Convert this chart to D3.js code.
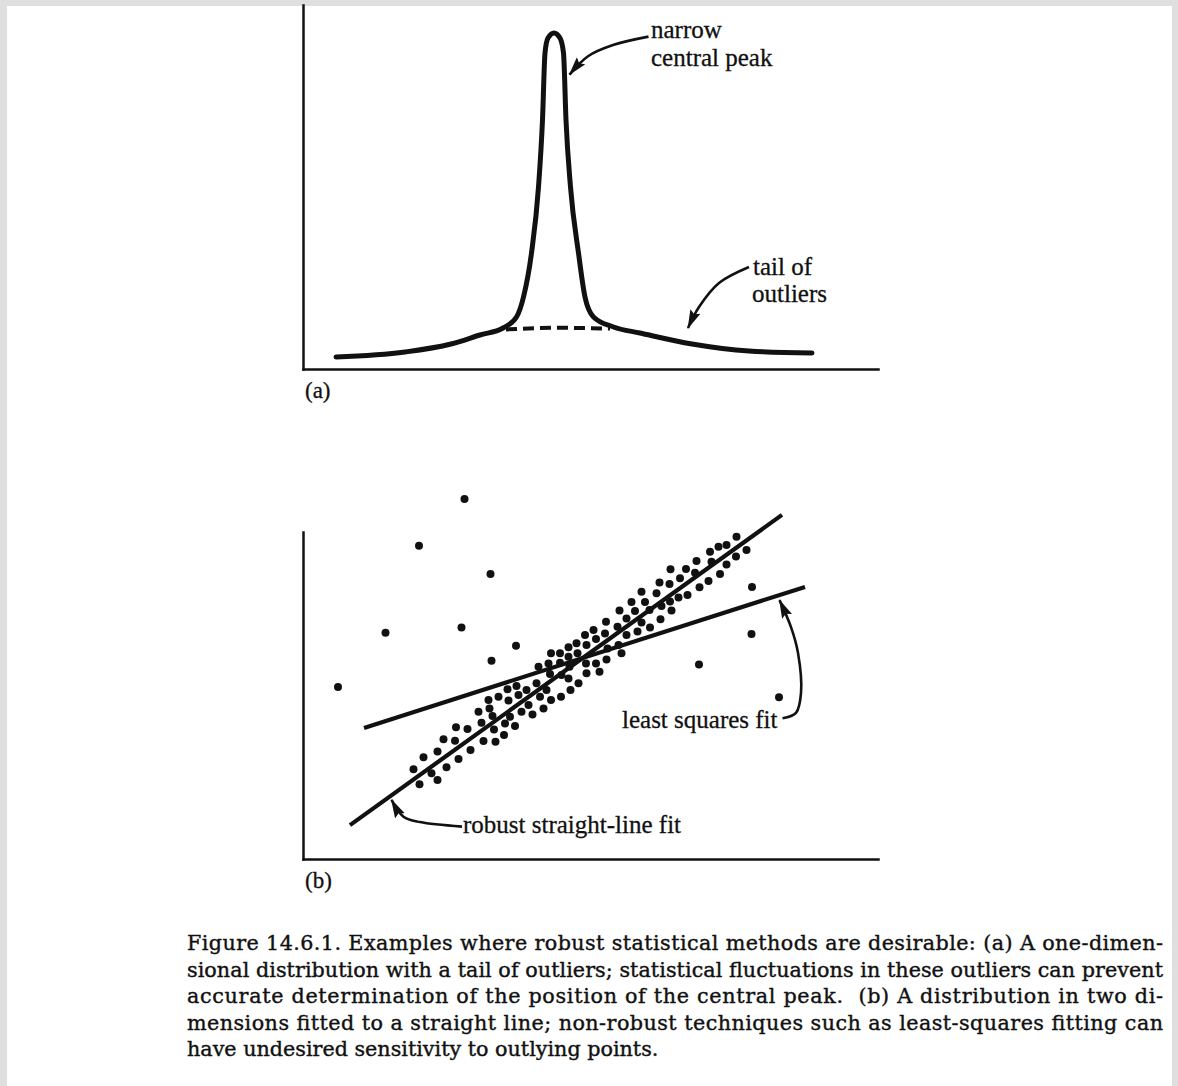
<!DOCTYPE html>
<html lang="en">
<head>
<meta charset="UTF-8">
<title>Figure 14.6.1</title>
<script src="https://d3js.org/d3.v7.min.js"></script>
<style>
  * { margin: 0; padding: 0; box-sizing: border-box; }
  body { background: #dfdfdf; width: 1178px; height: 1086px; overflow: hidden; }
  svg { display: block; }
  .note { font-family: "Liberation Serif", "Times New Roman", serif; font-size: 25px; fill: #111; stroke: #111; stroke-width: 0.3px; }
  .caption { font-family: "DejaVu Serif", serif; fill: #111; stroke: #111; stroke-width: 0.4px; }
</style>
</head>
<body>
<div id="chart"></div>
<script>
// (a) one-dimensional distribution: narrow peak on a broad tail
const peakX = [6.6, 20.4, 29.6, 35.4, 40.0, 42.7, 44.1, 45.7, 47.1, 47.9, 48.4, 49.0, 50.2,
               51.4, 52.1, 52.6, 53.5, 55.1, 56.4, 58.1, 62.1, 67.4, 77.8, 89.2, 101.8];
const peakY = [3.0, 4.25, 6.25, 8.5, 10.25, 13.0, 18.0, 29.0, 45.5, 62.25, 79.0, 82.75, 84.0,
               82.75, 79.0, 62.25, 45.5, 29.0, 18.0, 13.0, 10.5, 9.0, 6.25, 4.5, 4.0];
// broad component under the peak (dashed)
const baseX = [40.6, 51.0, 61.4];
const baseY = [9.9, 10.3, 10.1];

// (b) points in two dimensions
const outlierDots = [[32.3, 120.0], [23.2, 104.4], [37.5, 95.0], [16.5, 75.4], [31.7, 77.2],
  [42.6, 71.1], [37.7, 66.1], [7.0, 57.3], [89.8, 90.7], [89.7, 75.0], [79.2, 64.8], [95.2, 53.9]];
const bandDots = [
  [22.1, 29.9], [23.3, 24.9], [24.1, 33.9], [25.7, 28.6], [26.9, 26.3], [26.9, 35.8], [28.1, 39.9],
  [28.7, 30.6], [30.4, 39.4], [30.6, 43.9], [31.1, 33.3], [32.9, 43.3], [33.5, 36.3], [35.1, 49.1],
  [35.7, 45.4], [36.1, 39.3], [37.1, 53.0], [37.3, 50.2], [37.9, 47.7], [38.2, 43.2], [38.5, 39.1],
  [39.1, 54.1], [40.2, 41.3], [40.4, 45.2], [41.1, 52.8], [41.4, 47.4], [40.9, 56.6], [42.4, 44.3],
  [42.7, 57.7], [43.1, 54.7], [43.7, 49.1], [44.7, 56.3], [45.1, 51.3], [45.9, 48.2], [46.7, 58.6],
  [47.4, 54.1], [48.1, 50.2], [48.7, 56.3],
  [47.1, 64.1], [49.1, 65.2], [49.4, 61.7], [49.6, 68.6], [49.6, 53.0], [51.4, 68.6], [51.4, 65.4],
  [51.7, 61.3], [51.6, 54.1], [53.1, 70.6], [53.1, 67.4], [53.3, 64.1], [53.1, 60.2], [53.5, 56.3],
  [54.7, 71.9], [54.9, 68.6], [55.1, 58.6], [56.4, 74.7], [56.7, 71.3], [56.6, 65.2], [56.7, 61.9],
  [58.1, 76.3], [58.6, 73.3], [58.6, 65.2], [59.3, 62.4], [60.4, 75.2], [60.6, 79.1], [60.9, 70.2],
  [60.7, 66.5], [62.9, 77.4], [63.1, 71.3], [64.7, 74.7], [63.7, 68.6],
  [67.7, 89.1], [65.7, 85.7], [68.4, 85.7], [63.3, 82.8], [66.4, 82.7], [69.3, 83.0], [64.7, 80.2],
  [67.7, 78.8], [66.9, 75.8], [69.4, 77.2],
  [86.7, 107.4], [84.7, 104.7], [83.1, 104.1], [81.4, 102.4], [88.7, 103.0], [86.6, 100.8],
  [78.7, 99.3], [81.7, 99.1], [84.7, 98.2], [73.5, 96.6], [76.6, 96.7], [78.4, 95.4], [75.4, 93.6],
  [83.4, 95.0], [81.1, 92.7], [79.3, 90.6], [71.3, 92.2], [73.3, 91.7], [70.7, 88.6], [76.9, 88.0],
  [75.1, 87.2], [73.4, 85.8], [71.7, 84.3], [73.7, 82.8], [71.5, 79.9]];
const robustX = [9.4, 95.8], robustY = [11.3, 114.7];
const lsqX = [12.2, 100.4], lsqY = [43.7, 90.7];

// annotation arrows (data units of each panel)
const narrowArrow = [[69.1, 83.1], [62.0, 81.0], [57.0, 78.2], [53.3, 73.6]];
const tailArrow = [[89.2, 25.5], [83.2, 21.5], [79.2, 15.5], [77.0, 10.25]];
const lsqArrow = [[95.9, 46.9], [98.6, 48.7], [99.6, 55.3], [99.0, 68.7], [97.6, 77.3], [95.3, 86.3]];
const robustArrow = [[31.8, 10.8], [23.4, 12.3], [20.1, 14.1], [17.7, 19.7]];

const captionLines = [
  "Figure 14.6.1. Examples where robust statistical methods are desirable: (a) A one-dimen-",
  "sional distribution with a tail of outliers; statistical fluctuations in these outliers can prevent",
  "accurate determination of the position of the central peak.  (b) A distribution in two di-",
  "mensions fitted to a straight line; non-robust techniques such as least-squares fitting can",
  "have undesired sensitivity to outlying points."
];

const W = 1178, H = 1086;
const svg = d3.select("#chart").append("svg").attr("width", W).attr("height", H);
svg.append("rect").attr("x", 7).attr("y", 6).attr("width", 1165).attr("height", H - 6).attr("fill", "#fff");

const defs = svg.append("defs");
defs.append("marker")
    .attr("id", "head")
    .attr("viewBox", "0 -6 19 12")
    .attr("refX", 18).attr("refY", 0)
    .attr("markerWidth", 19).attr("markerHeight", 12)
    .attr("markerUnits", "userSpaceOnUse")
    .attr("orient", "auto")
  .append("path")
    .attr("d", "M0,-5.5L19,0L0,5.5L3,0Z")
    .attr("fill", "#111");

const ink = "#111";

function drawAxes(x, y) {
    svg.append("g")
        .attr("transform", `translate(0,${y(0)})`)
        .call(d3.axisBottom(x).tickValues([]).tickSizeOuter(0))
        .select(".domain").attr("stroke", ink).attr("stroke-width", 2.5).attr("stroke-linecap", "square");
    svg.append("g")
        .attr("transform", `translate(${x(0)},0)`)
        .call(d3.axisLeft(y).tickValues([]).tickSizeOuter(0))
        .select(".domain").attr("stroke", ink).attr("stroke-width", 2.5).attr("stroke-linecap", "square");
}

function arrow(pts, x, y) {
    svg.append("path")
        .attr("d", d3.line().x(d => x(d[0])).y(d => y(d[1])).curve(d3.curveCatmullRom)(pts))
        .attr("fill", "none")
        .attr("stroke", ink)
        .attr("stroke-width", 2.6)
        .attr("marker-end", "url(#head)");
}

// ---------- panel (a) ----------
const xA = d3.scaleLinear().domain([0, 115]).range([303, 878]);
const yA = d3.scaleLinear().domain([0, 91]).range([369, 5]);
drawAxes(xA, yA);

const peak = peakX.map((v, i) => [v, peakY[i]]);
svg.append("path")
    .attr("d", d3.line().x(d => xA(d[0])).y(d => yA(d[1])).curve(d3.curveMonotoneX)(peak))
    .attr("fill", "none")
    .attr("stroke", ink)
    .attr("stroke-width", 5)
    .attr("stroke-linecap", "round")
    .attr("stroke-linejoin", "round");

const base = baseX.map((v, i) => [v, baseY[i]]);
svg.append("path")
    .attr("d", d3.line().x(d => xA(d[0])).y(d => yA(d[1])).curve(d3.curveMonotoneX)(base))
    .attr("fill", "none")
    .attr("stroke", ink)
    .attr("stroke-width", 4)
    .attr("stroke-dasharray", "11 6");

svg.append("text").attr("class", "note").attr("x", xA(69.6)).attr("y", yA(82.75)).text("narrow");
svg.append("text").attr("class", "note").attr("x", xA(69.6)).attr("y", yA(75.75)).text("central peak");
svg.append("text").attr("class", "note").attr("x", xA(90)).attr("y", yA(23.5)).text("tail of");
svg.append("text").attr("class", "note").attr("x", xA(89.8)).attr("y", yA(16.75)).text("outliers");
arrow(narrowArrow, xA, yA);
arrow(tailArrow, xA, yA);
svg.append("text").attr("class", "note").style("font-size", "23px")
    .attr("x", xA(0) + 2).attr("y", yA(0) + 29).text("(a)");

// ---------- panel (b) ----------
const xB = d3.scaleLinear().domain([0, 115]).range([303, 878]);
const yB = d3.scaleLinear().domain([0, 109]).range([859, 532]);
drawAxes(xB, yB);

svg.selectAll(".dot")
    .data(outlierDots.concat(bandDots))
    .join("circle")
    .attr("class", "dot")
    .attr("cx", d => xB(d[0]))
    .attr("cy", d => yB(d[1]))
    .attr("r", 4)
    .attr("fill", ink);

[[robustX, robustY], [lsqX, lsqY]].forEach(([xs, ys]) => {
    svg.append("path")
        .attr("d", d3.line().x(d => xB(d[0])).y(d => yB(d[1]))(xs.map((v, i) => [v, ys[i]])))
        .attr("stroke", ink)
        .attr("stroke-width", 4.2)
        .attr("fill", "none");
});

svg.append("text").attr("class", "note").attr("x", xB(63.8)).attr("y", yB(43.7)).text("least squares fit");
svg.append("text").attr("class", "note").attr("x", xB(32)).attr("y", yB(8.6)).text("robust straight-line fit");
arrow(lsqArrow, xB, yB);
arrow(robustArrow, xB, yB);
svg.append("text").attr("class", "note").style("font-size", "23px")
    .attr("x", xB(0) + 2).attr("y", yB(0) + 29).text("(b)");

// ---------- caption ----------
const capLeft = 187, capRight = 1163, capTop = 950, capLead = 26.5;
const cap = svg.append("g").attr("class", "caption");
let fs = 18;
const probe = cap.append("text").style("font-size", fs + "px");
let widest = 0;
captionLines.slice(0, -1).forEach(t => {
    probe.text(t);
    widest = Math.max(widest, probe.node().getComputedTextLength());
});
probe.remove();
fs = fs * (capRight - capLeft) * 0.995 / widest;

captionLines.forEach((t, i) => {
    const el = cap.append("text")
        .attr("x", capLeft)
        .attr("y", capTop + i * capLead)
        .style("font-size", fs + "px")
        .attr("xml:space", "preserve")
        .text(t);
    if (i < captionLines.length - 1) {
        el.attr("textLength", capRight - capLeft).attr("lengthAdjust", "spacing");
    }
});
</script>
</body>
</html>
